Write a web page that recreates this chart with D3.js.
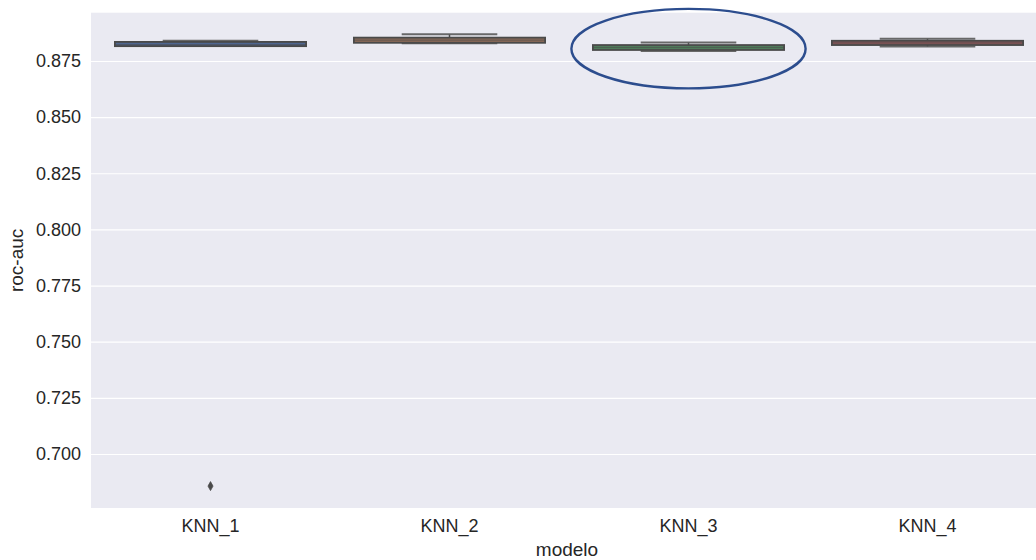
<!DOCTYPE html>
<html>
<head>
<meta charset="utf-8">
<script src="https://cdn.jsdelivr.net/npm/d3@7"></script>
<style>
  html, body { margin: 0; padding: 0; background: #ffffff; }
  svg text { font-family: "Liberation Sans", Arial, Helvetica, sans-serif; fill: #262626; }
</style>
</head>
<body>
<svg id="chart" width="1036" height="560"></svg>
<script>
// ---- data ----
const categories   = ["KNN_1", "KNN_2", "KNN_3", "KNN_4"];
const whiskerLow   = [0.8816, 0.8828, 0.87945, 0.8814];
const q1Values     = [0.8816, 0.8831, 0.8799, 0.8821];
const medianValues = [0.8823, 0.8843, 0.8810, 0.8831];
const q3Values     = [0.8835, 0.8854, 0.8821, 0.8840];
const whiskerHigh  = [0.8840, 0.8869, 0.88324, 0.8849];
const outliers     = [[0.6857], [], [], []];
const yTicks       = [0.700, 0.725, 0.750, 0.775, 0.800, 0.825, 0.850, 0.875];
const boxColors    = ["#4f6690", "#8a6a58", "#4f7a5a", "#8a5658"];
const highlightCategory = "KNN_3";
const highlightValue = 0.8805;
const highlightHalfSpan = 0.0177;

// ---- layout ----
const svg = d3.select("#chart");
const pLeft = 91, pRight = 1036, axisRight = 1047, pTop = 12.7, pBottom = 508;

const x = d3.scaleBand().domain(categories).range([pLeft, axisRight]).padding(0);
const y = d3.scaleLinear().domain([0.67595, 0.8965]).range([pBottom, pTop]);
const bw = x.bandwidth();
const boxW = bw * 0.8;
const capW = boxW * 0.5;
const lineColor = "#4a4a4a";

// background
svg.append("rect").attr("x", pLeft).attr("y", pTop)
  .attr("width", pRight - pLeft).attr("height", pBottom - pTop)
  .attr("fill", "#eaeaf2");

// grid + y axis
const yAxis = d3.axisLeft(y).tickValues(yTicks).tickFormat(d3.format(".3f"))
  .tickSize(-(pRight - pLeft)).tickPadding(10);
const gy = svg.append("g").attr("transform", `translate(${pLeft},0)`).call(yAxis);
gy.select(".domain").remove();
gy.selectAll(".tick line").attr("stroke", "#ffffff").attr("stroke-width", 1.2);
gy.selectAll(".tick text").attr("font-size", 18).style("fill", "#262626");

// x axis
const xAxis = d3.axisBottom(x).tickSize(0).tickPadding(11);
const gx = svg.append("g").attr("transform", `translate(0,${pBottom})`).call(xAxis);
gx.select(".domain").remove();
gx.selectAll(".tick text").attr("font-size", 18).style("fill", "#262626");

// axis titles
svg.append("text").attr("x", (pLeft + axisRight) / 2 - 2).attr("y", 556)
  .attr("text-anchor", "middle").attr("font-size", 19).text("modelo");
svg.append("text").attr("transform", `translate(23,${(pTop + pBottom) / 2}) rotate(-90)`)
  .attr("text-anchor", "middle").attr("font-size", 19).text("roc-auc");

// boxes
const data = categories.map((c, i) => ({
  c, lo: whiskerLow[i], q1: q1Values[i], med: medianValues[i], q3: q3Values[i],
  hi: whiskerHigh[i], out: outliers[i], color: boxColors[i]
}));

const g = svg.append("g");
data.forEach(d => {
  const cx = x(d.c) + bw / 2;
  // whiskers
  g.append("line").attr("x1", cx).attr("x2", cx).attr("y1", y(d.q3)).attr("y2", y(d.hi))
    .attr("stroke", lineColor).attr("stroke-width", 1.5);
  g.append("line").attr("x1", cx).attr("x2", cx).attr("y1", y(d.q1)).attr("y2", y(d.lo))
    .attr("stroke", lineColor).attr("stroke-width", 1.5);
  // caps
  [d.lo, d.hi].forEach(v => {
    g.append("line").attr("x1", cx - capW / 2).attr("x2", cx + capW / 2)
      .attr("y1", y(v)).attr("y2", y(v))
      .attr("stroke", "#5a5a5a").attr("stroke-width", 1.8).attr("opacity", 0.9);
  });
  // box
  g.append("rect").attr("x", cx - boxW / 2).attr("y", y(d.q3))
    .attr("width", boxW).attr("height", Math.max(0.5, y(d.q1) - y(d.q3)))
    .attr("fill", d.color).attr("stroke", lineColor).attr("stroke-width", 1.8);
  // median
  g.append("line").attr("x1", cx - boxW / 2).attr("x2", cx + boxW / 2)
    .attr("y1", y(d.med)).attr("y2", y(d.med))
    .attr("stroke", lineColor).attr("stroke-width", 1.2).attr("opacity", 0.5);
  // outliers (thin diamond)
  d.out.forEach(v => {
    const py = y(v);
    g.append("path")
      .attr("d", `M${cx},${py - 4.5} L${cx + 2.5},${py} L${cx},${py + 4.5} L${cx - 2.5},${py} Z`)
      .attr("fill", lineColor).attr("stroke", lineColor).attr("stroke-width", 0.8);
  });
});

// highlight ellipse annotation
const hcx = x(highlightCategory) + bw / 2;
const hcy = y(highlightValue);
svg.append("ellipse").attr("cx", hcx).attr("cy", hcy)
  .attr("rx", bw * 0.49).attr("ry", y(highlightValue - highlightHalfSpan) - hcy)
  .attr("fill", "none").attr("stroke", "#2c4d8e").attr("stroke-width", 2.4);
</script>
</body>
</html>
